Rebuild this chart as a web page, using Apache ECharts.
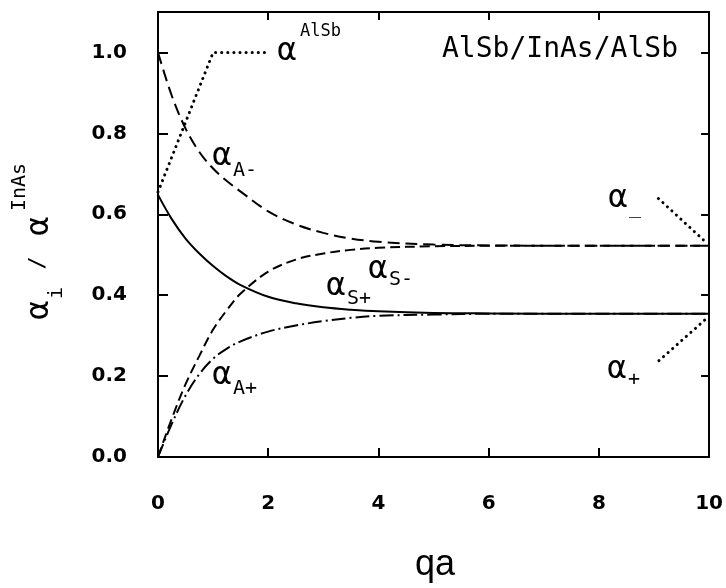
<!DOCTYPE html>
<html>
<head>
<meta charset="utf-8">
<script src="https://cdn.jsdelivr.net/npm/echarts@6/dist/echarts.min.js"></script>
<style>
  html, body { margin: 0; padding: 0; background: #fff; }
  #chart { width: 726px; height: 588px; }
</style>
</head>
<body>
<div id="chart"></div>
<script>
// qa sample points shared by the four curves
const qa = [0, 0.25, 0.5, 0.75, 1, 1.25, 1.5, 2, 2.5, 3, 3.5, 4, 5, 6, 8, 10];

// alpha_i / alpha^InAs for each mode
const alphaAminus = [1.000, 0.893, 0.812, 0.754, 0.713, 0.682, 0.656, 0.607, 0.575, 0.554, 0.540, 0.532, 0.525, 0.523, 0.522, 0.522];
const alphaSplus  = [0.648, 0.588, 0.540, 0.503, 0.472, 0.446, 0.425, 0.396, 0.380, 0.370, 0.364, 0.360, 0.356, 0.355, 0.354, 0.354];
const alphaSminus = [0.000, 0.095, 0.180, 0.250, 0.315, 0.363, 0.404, 0.458, 0.488, 0.503, 0.512, 0.517, 0.521, 0.522, 0.522, 0.522];
const alphaAplus  = [0.000, 0.082, 0.152, 0.205, 0.243, 0.268, 0.286, 0.310, 0.325, 0.336, 0.344, 0.349, 0.352, 0.354, 0.354, 0.354];

// dotted leader lines pointing at the limiting values
const leaderAlSb  = [[0, 0.655], [1, 1.0], [2.03, 1.0]];
const leaderMinus = [[9.08, 0.639], [9.95, 0.530]];
const leaderPlus  = [[9.09, 0.238], [9.95, 0.342]];

// axis ticks
const xTicks = [0, 2, 4, 6, 8, 10];
const yTicks = [0, 0.2, 0.4, 0.6, 0.8, 1.0];

const MONO = 'DejaVu Sans Mono';
const SANS = 'DejaVu Sans';
const pairs = ys => qa.map((x, i) => [x, ys[i]]);

const chart = echarts.init(document.getElementById('chart'), null, { renderer: 'canvas' });

const axisLine = { show: true, onZero: false, lineStyle: { color: '#000', width: 2 } };
const tick = len => ({ show: true, inside: true, length: len, lineStyle: { color: '#000', width: 2 } });
const tickLabel = margin => ({
  margin, color: '#000', fontFamily: SANS, fontSize: 20, fontWeight: 'bold'
});

function curve(name, ys, type) {
  return {
    name, type: 'line', data: pairs(ys), smooth: 0.35, showSymbol: false,
    lineStyle: { color: '#000', width: 2, type },
    silent: true, z: 3
  };
}
function leader(name, pts) {
  return {
    name, type: 'line', data: pts, showSymbol: false,
    lineStyle: { color: '#000', width: 3, type: [0.1, 6], cap: 'round' },
    silent: true, z: 2
  };
}

function txt(x, y, text, size, family, align) {
  return {
    type: 'text', x, y, silent: true,
    style: {
      text, fill: '#000', font: size + 'px "' + family + '"',
      textAlign: align || 'left', textVerticalAlign: 'middle'
    }
  };
}
function rtxt(x, y, text, size, family) {
  return {
    type: 'text', x, y, rotation: Math.PI / 2, silent: true,
    style: {
      text, fill: '#000', font: size + 'px "' + family + '"',
      textAlign: 'center', textVerticalAlign: 'middle'
    }
  };
}

chart.setOption({
  animation: false,
  backgroundColor: '#fff',
  grid: { left: 158, right: 16, top: 12, bottom: 131, containLabel: false },
  xAxis: [
    {
      type: 'value', min: 0, max: 10, interval: 2, position: 'bottom',
      axisLine, axisTick: tick(9), splitLine: { show: false },
      axisLabel: Object.assign(tickLabel(37), {
        customValues: xTicks, formatter: v => String(v)
      })
    },
    {
      type: 'value', min: 0, max: 10, interval: 2, position: 'top',
      axisLine, axisTick: tick(8), splitLine: { show: false },
      axisLabel: { show: false }
    }
  ],
  yAxis: [
    {
      type: 'value', min: 0, max: 1.1, position: 'left',
      axisLine, splitLine: { show: false },
      axisTick: Object.assign(tick(10), { customValues: yTicks }),
      axisLabel: Object.assign(tickLabel(31), {
        customValues: yTicks, formatter: v => v.toFixed(1)
      })
    },
    {
      type: 'value', min: 0, max: 1.1, position: 'right',
      axisLine, splitLine: { show: false },
      axisTick: Object.assign(tick(8), { customValues: yTicks }),
      axisLabel: { show: false }
    }
  ],
  series: [
    curve('αA-', alphaAminus, [12, 6]),
    curve('αS-', alphaSminus, [10, 5]),
    curve('αS+', alphaSplus, 'solid'),
    curve('αA+', alphaAplus, [14, 4, 2, 4]),
    leader('αAlSb', leaderAlSb),
    leader('α-', leaderMinus),
    leader('α+', leaderPlus)
  ],
  graphic: [
    // structure label
    txt(442, 50, 'AlSb/InAs/AlSb', 28, MONO),
    // alpha^AlSb
    txt(287, 52, 'α', 32, MONO, 'center'),
    txt(300, 32, 'AlSb', 17, MONO),
    // mode labels
    txt(222, 157, 'α', 32, MONO, 'center'),
    txt(233, 171, 'A-', 20, MONO),
    txt(336, 287, 'α', 32, MONO, 'center'),
    txt(347, 299, 'S+', 20, MONO),
    txt(378, 270, 'α', 32, MONO, 'center'),
    txt(389, 280, 'S-', 20, MONO),
    txt(222, 376, 'α', 32, MONO, 'center'),
    txt(233, 389, 'A+', 20, MONO),
    // limit labels
    txt(618, 199, 'α', 32, MONO, 'center'),
    txt(629, 208, '_', 20, MONO),
    txt(617, 370, 'α', 32, MONO, 'center'),
    txt(628, 380, '+', 20, MONO),
    // x-axis title
    txt(435, 565, 'qa', 36, 'Liberation Sans', 'center'),
    // y-axis title: alpha_i / alpha^InAs, rotated
    rtxt(40, 310, 'α', 32, MONO),
    rtxt(57, 293, 'i', 20, MONO),
    rtxt(38, 263, '/', 22, MONO),
    rtxt(40, 226, 'α', 32, MONO),
    rtxt(20, 187, 'InAs', 20, MONO)
  ]
});
</script>
</body>
</html>
